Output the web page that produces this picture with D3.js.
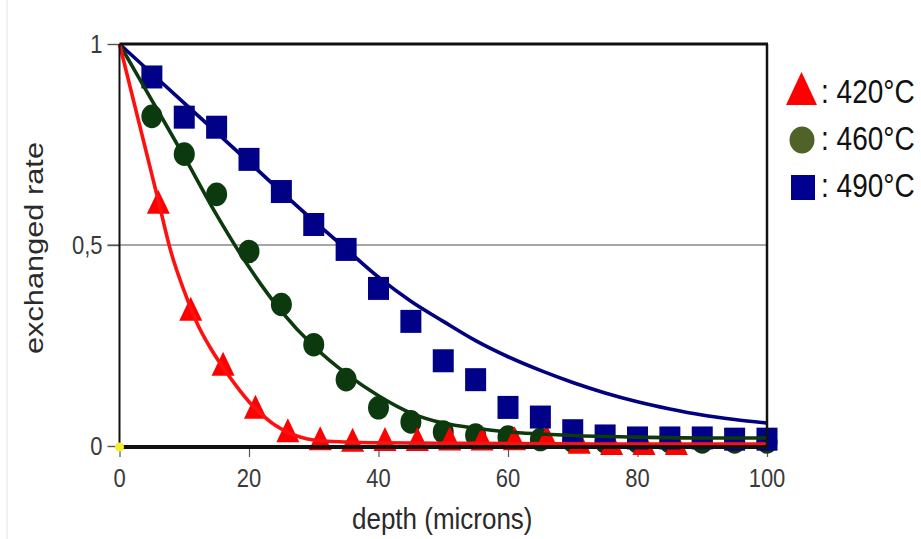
<!DOCTYPE html>
<html>
<head>
<meta charset="utf-8">
<script src="https://cdn.jsdelivr.net/npm/d3@7"></script>
<style>
  body { margin: 0; background: #fff; }
  svg text { font-family: "Liberation Sans", Arial, sans-serif; }
</style>
</head>
<body>
<div id="chart"></div>
<script>
// measured points (depth in microns, exchanged rate)
const depth = [5, 10, 15, 20, 25, 30, 35, 40, 45, 50, 55, 60, 65, 70, 75, 80, 85, 90, 95, 100];
const redDepth = [6, 11, 16, 21, 26, 31, 36, 41, 46, 51, 56, 61, 66, 71, 76, 81, 86];
const redRate = [0.60, 0.334, 0.197, 0.09, 0.032, 0.012, 0.008, 0.01, 0.01, 0.011, 0.011, 0.012, 0.015, 0.003, 0, 0, 0];
const greenRate = [0.82, 0.726, 0.626, 0.484, 0.352, 0.252, 0.165, 0.095, 0.06, 0.035, 0.027, 0.022, 0.016, 0.012, 0.01, 0.01, 0.01, 0.01, 0.01, 0.01];
const blueRate = [0.918, 0.818, 0.793, 0.713, 0.633, 0.551, 0.489, 0.392, 0.31, 0.212, 0.165, 0.096, 0.072, 0.038, 0.025, 0.02, 0.02, 0.02, 0.017, 0.017];

// fitted curves
const redFitX = [0, 2, 4, 6, 8, 10, 12, 14, 16, 18, 20, 22, 24, 26, 28, 30, 35, 40, 50, 60, 80, 100];
const redFitY = [1, 0.87, 0.74, 0.61, 0.48, 0.385, 0.305, 0.245, 0.195, 0.15, 0.11, 0.078, 0.052, 0.034, 0.022, 0.015, 0.01, 0.008, 0.007, 0.006, 0.005, 0.005];
const greenFitX = [0, 5, 10, 15, 20, 25, 30, 35, 40, 45, 50, 55, 60, 65, 70, 80, 90, 100];
const greenFitY = [1, 0.86, 0.72, 0.575, 0.445, 0.335, 0.248, 0.18, 0.125, 0.082, 0.057, 0.044, 0.035, 0.03, 0.026, 0.022, 0.02, 0.02];
const blueFitX = [0, 10, 20, 30, 35, 40, 45, 50, 55, 60, 65, 70, 75, 80, 85, 90, 95, 100];
const blueFitY = [1, 0.853, 0.706, 0.56, 0.49, 0.42, 0.36, 0.31, 0.262, 0.222, 0.188, 0.158, 0.132, 0.11, 0.092, 0.077, 0.066, 0.057];

const xTicks = [0, 20, 40, 60, 80, 100];
const yTicks = [0, 0.5, 1];
const legendLabels = [": 420°C", ": 460°C", ": 490°C"];

const width = 921;
const height = 539;
const margin = { top: 44, right: 154, bottom: 93, left: 119.5 };
const stretch = 1.17; // the picture is a bit taller than wide

const svg = d3.select("#chart").append("svg")
    .attr("width", width)
    .attr("height", height);

// text drawn at (x, y) baseline, stretched vertically like the screenshot
function label(parent, tx, ty, str, size, anchor) {
    return parent.append("text")
        .attr("transform", `translate(${tx},${ty}) scale(1,${stretch})`)
        .attr("text-anchor", anchor || "start")
        .attr("font-size", size)
        .text(str);
}

// faint edge of the screenshot
svg.append("line")
    .attr("x1", 7).attr("x2", 7).attr("y1", 0).attr("y2", height)
    .attr("stroke", "#ececec").attr("stroke-width", 1.5);

const x = d3.scaleLinear().domain([0, 100]).range([margin.left, width - margin.right]);
const y = d3.scaleLinear().domain([0, 1]).range([height - margin.bottom, margin.top]);

// gridline at 0,5
svg.append("line")
    .attr("x1", x(0) - 12).attr("x2", x(100))
    .attr("y1", y(0.5)).attr("y2", y(0.5))
    .attr("stroke", "#8a8a8a").attr("stroke-width", 1.6);

const xAxis = svg.append("g")
    .attr("transform", `translate(0,${y(0)})`)
    .call(d3.axisBottom(x).tickValues(xTicks).tickSize(11).tickFormat(""));
xAxis.select(".domain").remove();
xAxis.selectAll("line").attr("stroke", "#555").attr("stroke-width", 1.2);

const yAxis = svg.append("g")
    .attr("transform", `translate(${x(0)},0)`)
    .call(d3.axisLeft(y).tickValues(yTicks).tickSize(12).tickFormat(""));
yAxis.select(".domain").remove();
yAxis.selectAll("line").attr("stroke", "#555").attr("stroke-width", 1.4);

const tickText = svg.append("g").attr("fill", "#3a3a3a");
xTicks.forEach(t => label(tickText, x(t), 487, String(t), 22, "middle"));
yTicks.forEach(t => label(tickText, x(0) - 17, y(t) + 9, d3.format("~g")(t).replace(".", ","), 22, "end"));

// markers
const greenG = svg.append("g").attr("fill", "#0c3a0e");
greenG.selectAll("ellipse")
    .data(depth.map((d, i) => [d, greenRate[i]]))
    .join("ellipse")
    .attr("cx", d => x(d[0])).attr("cy", d => y(d[1]))
    .attr("rx", 10.5).attr("ry", 11.8);

const redG = svg.append("g").attr("fill", "#ff0000");
redG.selectAll("path")
    .data(redDepth.map((d, i) => [d, redRate[i]]))
    .join("path")
    .attr("transform", d => `translate(${x(d[0])},${y(d[1])})`)
    .attr("d", "M-11.5,9L0,-15L11.5,9Z");

const blueG = svg.append("g").attr("fill", "#000088");
blueG.selectAll("rect")
    .data(depth.map((d, i) => [d, blueRate[i]]))
    .join("rect")
    .attr("x", d => x(d[0]) - 10.5).attr("y", d => y(d[1]) - 11.5)
    .attr("width", 21).attr("height", 23);

// fitted lines
const line = d3.line()
    .x(d => x(d[0]))
    .y(d => y(d[1]))
    .curve(d3.curveMonotoneX);

const fits = [
    { xs: blueFitX, ys: blueFitY, color: "#000080" },
    { xs: greenFitX, ys: greenFitY, color: "#0c3a0e" },
    { xs: redFitX, ys: redFitY, color: "#ff1010" }
];
fits.forEach(f => {
    svg.append("path")
        .datum(f.xs.map((d, i) => [d, f.ys[i]]))
        .attr("fill", "none")
        .attr("stroke", f.color)
        .attr("stroke-width", 3.6)
        .attr("d", line);
});

// frame
svg.append("line")
    .attr("x1", x(0)).attr("x2", x(100) + 1).attr("y1", y(1)).attr("y2", y(1))
    .attr("stroke", "#111").attr("stroke-width", 3);
svg.append("line")
    .attr("x1", x(100)).attr("x2", x(100)).attr("y1", y(1)).attr("y2", y(0))
    .attr("stroke", "#111").attr("stroke-width", 2.5);
svg.append("line")
    .attr("x1", x(0)).attr("x2", x(0)).attr("y1", y(1)).attr("y2", y(0))
    .attr("stroke", "#111").attr("stroke-width", 2);
svg.append("line")
    .attr("x1", x(0)).attr("x2", x(100)).attr("y1", y(0) + 1).attr("y2", y(0) + 1)
    .attr("stroke", "#111").attr("stroke-width", 4);

svg.append("circle")
    .attr("cx", x(0)).attr("cy", y(0) + 1).attr("r", 4.5)
    .attr("fill", "#f5ee30");

// axis titles
const titles = svg.append("g").attr("fill", "#2a2a2a");
label(titles, (x(0) + x(100)) / 2 - 1, 529, "depth (microns)", 26, "middle");

titles.append("text")
    .attr("transform", `translate(43,${y(0.5) + 3}) rotate(-90)`)
    .attr("text-anchor", "middle")
    .attr("font-size", 26)
    .attr("textLength", 212)
    .attr("lengthAdjust", "spacingAndGlyphs")
    .text("exchanged rate");

// legend
const legend = svg.append("g");
legend.append("path")
    .attr("d", "M786,105L801.5,72L817,105Z")
    .attr("fill", "#ff0000");
legend.append("ellipse")
    .attr("cx", 802).attr("cy", 140).attr("rx", 12.5).attr("ry", 13.5)
    .attr("fill", "#4f6228");
legend.append("rect")
    .attr("x", 791).attr("y", 175).attr("width", 24).attr("height", 25)
    .attr("fill", "#000090");
legendLabels.forEach((d, i) => {
    label(legend, 821, 103 + i * 47, d, 28)
        .attr("font-family", "'Open Sans', sans-serif")
        .attr("fill", "#111");
});
</script>
</body>
</html>
